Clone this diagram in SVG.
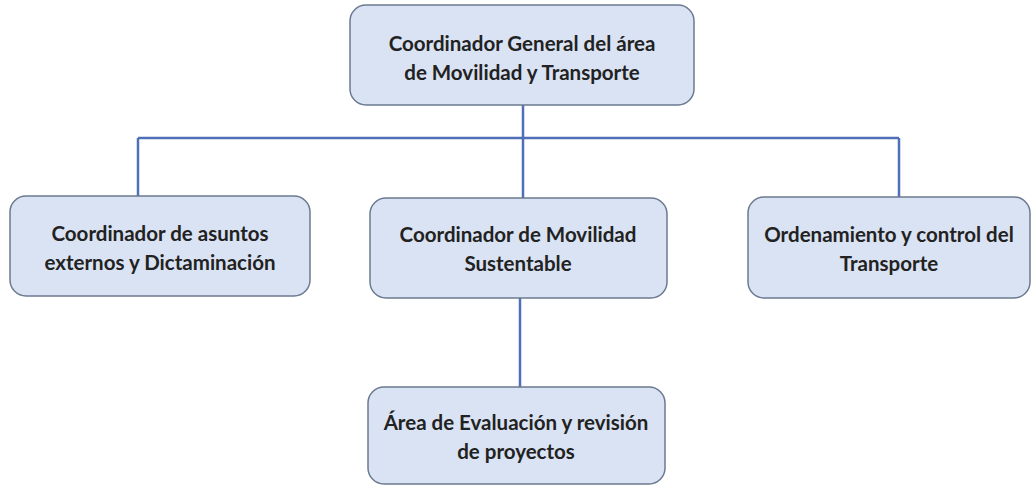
<svg xmlns="http://www.w3.org/2000/svg" width="1034" height="486" viewBox="0 0 1034 486">
<style>
.box{fill:#dae3f3;stroke:#6b7a90;stroke-width:1.5}
.t{font-family:Lato,"Open Sans","Liberation Sans",sans-serif;font-weight:bold;font-size:20.5px;fill:#222222;text-anchor:middle}
.c{stroke:#4f6fb8;stroke-width:2.5;fill:none}
</style>
<rect width="1034" height="486" fill="#ffffff"/>
<g id="connectors">
<path class="c" d="M523 105 V138"/>
<path class="c" d="M138 138 H899"/>
<path class="c" d="M138 138 V196"/>
<path class="c" d="M523 138 V198"/>
<path class="c" d="M899 138 V197"/>
<path class="c" d="M520 298 V387"/>
</g>
<g id="n1">
<rect class="box" x="350" y="5" width="344" height="100" rx="16"/>
<text class="t" x="522" y="51">Coordinador General del área</text>
<text class="t" x="522" y="80">de Movilidad y Transporte</text>
</g>
<g id="n2">
<rect class="box" x="10" y="196" width="300" height="100" rx="16"/>
<text class="t" x="160" y="241">Coordinador de asuntos</text>
<text class="t" x="160" y="270">externos y Dictaminación</text>
</g>
<g id="n3">
<rect class="box" x="370" y="198" width="297" height="100" rx="16"/>
<text class="t" x="518" y="242">Coordinador de Movilidad</text>
<text class="t" x="518" y="271">Sustentable</text>
</g>
<g id="n4">
<rect class="box" x="748" y="197" width="282" height="101" rx="16"/>
<text class="t" x="889" y="242">Ordenamiento y control del</text>
<text class="t" x="889" y="271">Transporte</text>
</g>
<g id="n5">
<rect class="box" x="368" y="387" width="297" height="97" rx="16"/>
<text class="t" x="516" y="430">Área de Evaluación y revisión</text>
<text class="t" x="516" y="459">de proyectos</text>
</g>
</svg>
